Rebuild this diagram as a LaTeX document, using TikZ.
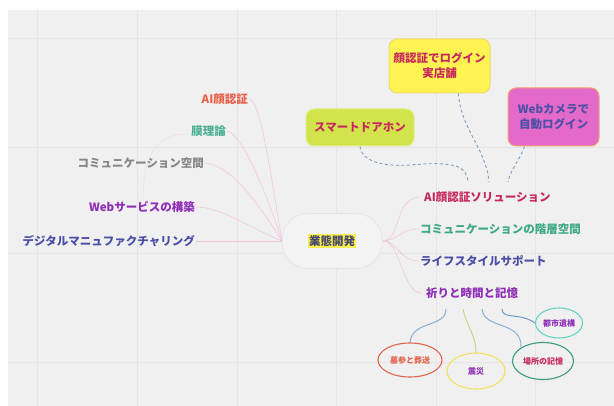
\documentclass[tikz,border=0pt]{standalone}
\usepackage{fontspec}
\setmainfont{Noto Sans CJK JP}
\usetikzlibrary{shapes.geometric}
\definecolor{bgc}{HTML}{F0F0F0}
\definecolor{gridc}{HTML}{E5E5E5}
\definecolor{crim}{HTML}{C7295C}
\definecolor{tealc}{HTML}{3DA886}
\definecolor{mint}{HTML}{4DB092}
\definecolor{indi}{HTML}{4B4FA6}
\definecolor{purp}{HTML}{8E2DB5}
\definecolor{orng}{HTML}{E8604A}
\definecolor{grayt}{HTML}{858585}
\definecolor{cent}{HTML}{46466E}
\definecolor{hil}{HTML}{F8F050}
\definecolor{pinkl}{HTML}{F0C6DE}
\definecolor{dashc}{HTML}{7E9EC0}
\definecolor{boxy}{HTML}{FFF352}
\definecolor{boxyb}{HTML}{E8DC6A}
\definecolor{boxg}{HTML}{D2E34B}
\definecolor{boxgb}{HTML}{E2EE8A}
\definecolor{boxm}{HTML}{E36AC9}
\definecolor{boxmb}{HTML}{F2A070}
\definecolor{bluel}{HTML}{88AED8}
\definecolor{blued}{HTML}{6A98C8}
\definecolor{yell}{HTML}{C8D48A}
\definecolor{elred}{HTML}{E2634E}
\definecolor{elyel}{HTML}{F0E060}
\definecolor{elgrn}{HTML}{3A9A80}
\definecolor{elcya}{HTML}{66D2C4}
\definecolor{cfill}{HTML}{F3F3F3}
\definecolor{cbord}{HTML}{E8E2E8}
\tikzset{
  lbl/.style={font=\fontsize{11.5}{13}\selectfont\bfseries, inner sep=1pt},
  boxn/.style={rounded corners=8pt, line width=1pt, align=center, font=\fontsize{11.5}{15}\selectfont\bfseries, inner sep=4pt},
  elab/.style={ellipse, line width=1.1pt, font=\fontsize{8}{9}\selectfont\bfseries, inner sep=0pt},
  pk/.style={draw=pinkl, line width=0.6pt},
  dsh/.style={draw=dashc, dashed, dash pattern=on 3pt off 2.5pt, line width=0.9pt},
  gridl/.style={draw=gridc, line width=0.9pt}
}
\begin{document}
\begin{tikzpicture}[x=1pt,y=-1pt]
\useasboundingbox (0,0) rectangle (614,406);
\fill[white] (0,0) rectangle (614,406);
\fill[bgc] (8,10) rectangle (614,406);
% grid
\foreach \gx in {37,137,237,336,436,535} \draw[gridl] (\gx,10) -- (\gx,406);
\foreach \gy in {38,147,253,362} \draw[gridl] (8,\gy) -- (614,\gy);

% central node
\node[draw=cbord, fill=cfill, rounded corners=26pt, minimum width=100pt, minimum height=55pt, line width=0.7pt] (c) at (332,241) {};
\node[fill=hil, inner sep=1pt, text=cent, font=\fontsize{11.5}{13}\selectfont\bfseries] (ct) at (332,241) {業態開発};
\coordinate (cl) at (282,241);
\coordinate (cr) at (383,241);

% left labels
\node[lbl, text=orng, anchor=east] (l1) at (249,99) {AI顔認証};
\node[lbl, text=mint, anchor=east] (l2) at (227,131) {膜理論};
\node[lbl, text=grayt, anchor=east] (l3) at (205,163) {コミュニケーション空間};
\node[lbl, text=purp, anchor=east] (l4) at (196,207) {Webサービスの構築};
\node[lbl, text=indi, anchor=east] (l5) at (196,241) {デジタルマニュファクチャリング};

\draw[draw=gray!22, line width=0.5pt] (188,134) .. controls (160,134) and (143,150) .. (143,200);

\draw[pk] (l1.east) .. controls +(12,2) and +(-12,-70) .. (cl);
\draw[pk] (l2.east) .. controls +(14,2) and +(-18,-55) .. (cl);
\draw[pk] (l3.east) .. controls +(25,2) and +(-25,-40) .. (cl);
\draw[pk] (l4.east) .. controls +(25,0) and +(-30,-12) .. (cl);
\draw[pk] (l5.east) -- (cl);

% right labels
\node[lbl, text=crim, anchor=west] (r1) at (423,197) {AI顔認証ソリューション};
\node[lbl, text=tealc, anchor=west] (r2) at (419,229) {コミュニケーションの階層空間};
\node[lbl, text=indi, anchor=west] (r3) at (419,261) {ライフスタイルサポート};
\node[lbl, text=purp, anchor=west] (r4) at (425,293) {祈りと時間と記憶};

\draw[pk] (cr) .. controls +(18,0) and +(-25,2) .. ([xshift=-4pt]r1.west);
\draw[pk] (cr) .. controls +(15,0) and +(-20,0) .. (r2.west);
\draw[pk] (cr) .. controls +(15,0) and +(-20,0) .. (r3.west);
\draw[pk] (cr) .. controls +(18,0) and +(-20,-2) .. ([xshift=-4pt]r4.west);

% top boxes
\node[boxn, fill=boxy, draw=boxyb, text=crim, minimum width=101pt, minimum height=54pt] (b1) at (439.5,66) {顔認証でログイン\\実店舗};
\node[boxn, fill=boxm, draw=boxmb, text=indi, minimum width=91pt, minimum height=58pt] (b2) at (553.5,117) {Webカメラで\\自動ログイン};
\node[boxn, fill=boxg, draw=boxgb, text=crim, minimum width=108pt, minimum height=37pt] (b3) at (360,127.5) {スマートドアホン};

\coordinate (d1) at (468,182);
\coordinate (d2) at (489,182);
\coordinate (d3) at (508,182);
\draw[dsh] (b3.south) .. controls (361,160) and (380,167) .. (410,165) .. controls (455,161) and (467,166) .. (d1);
\draw[dsh] ([xshift=19pt]b1.south) .. controls (461,130) and (486,148) .. (d2);
\draw[dsh] ([xshift=-29pt]b2.south) .. controls (520,160) and (510,170) .. (d3);

% bottom ellipses
\node[elab, draw=elred, text=elred, minimum width=64pt, minimum height=34pt] (e1) at (410,360) {墓参と葬送};
\node[elab, draw=elyel, text=purp, minimum width=58pt, minimum height=36pt] (e2) at (476,371) {震災};
\node[elab, draw=elgrn, text=crim, minimum width=61pt, minimum height=37pt] (e3) at (543,361) {場所の記憶};
\node[elab, draw=elcya, text=purp, minimum width=47pt, minimum height=30pt] (e4) at (559,323) {都市遺構};

\coordinate (s1) at (446,309);
\coordinate (s2) at (463,309);
\coordinate (s3) at (482,309);
\coordinate (s4) at (502,309);
\draw[draw=bluel, line width=1pt] (s1) .. controls (446,328) and (412,320) .. (e1.north);
\draw[draw=yell, line width=1pt] (s2) .. controls (468,330) and (476,335) .. (e2.north);
\draw[draw=bluel, line width=1pt] (s3) .. controls (484,330) and (522,320) .. (e3.north west);
\draw[draw=blued, line width=1pt] (s4) .. controls (502,320) and (520,312) .. (e4.west);
\end{tikzpicture}
\end{document}
